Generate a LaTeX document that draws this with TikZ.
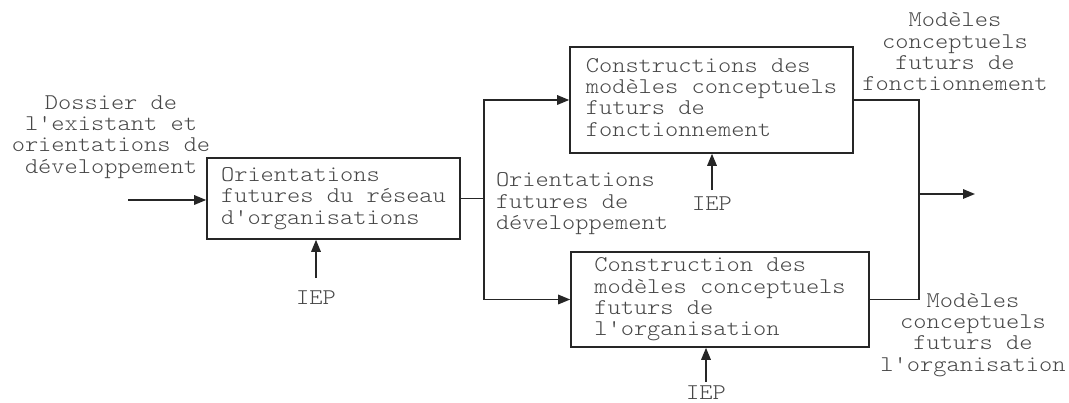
\documentclass[tikz,border=0pt]{standalone}
\usepackage{graphicx}
\usetikzlibrary{arrows.meta}
\newcommand\mytxt[2]{\scalebox{1.12}[1]{\begin{tabular}{@{}#1@{}}#2\end{tabular}}}
\begin{document}
\begin{tikzpicture}[x=1pt,y=-1pt,
  font=\ttfamily\fontseries{l}\fontsize{22.5}{21.3}\selectfont,
  txt/.style={text=black!72, inner sep=0pt},
  box/.style={draw=black!85, line width=1.6pt, text=black!72, inner sep=0pt},
  arr/.style={draw=black!85, line width=1.6pt, -{Triangle[length=12pt,width=9.5pt]}},
  ln/.style={draw=black!85, line width=1.6pt}]
\useasboundingbox (0,0) rectangle (1069,403);
% boxes
\node[box, minimum width=253pt, minimum height=81pt] (b1) at (333.5,198.5) {\mytxt{l}{Orientations\\futures du réseau\\d'organisations}};
\node[box, minimum width=283pt, minimum height=106pt] (b2) at (711.5,100) {\mytxt{l}{Constructions des\\modèles conceptuels\\futurs de\\fonctionnement}};
\node[box, minimum width=298pt, minimum height=95pt] (b3) at (720,299.5) {\mytxt{l}{Construction des\\modèles conceptuels\\futurs de\\l'organisation}};
% labels
\node[txt] (l0) at (111,137) {\mytxt{c}{Dossier de\\l'existant et\\orientations de\\développement}};
\node[txt] (l1) at (582,204) {\mytxt{l}{Orientations\\futures de\\développement}};
\node[txt] (l2) at (955,54.5) {\mytxt{c}{Modèles\\conceptuels\\futurs de\\fonctionnement}};
\node[txt] (l3) at (973,335) {\mytxt{c}{Modèles\\conceptuels\\futurs de\\l'organisation}};
\node[txt, outer ysep=11.3pt] (i1) at (316,300) {\mytxt{c}{IEP}};
\node[txt, outer ysep=5.3pt] (i2) at (712,206) {\mytxt{c}{IEP}};
\node[txt, outer ysep=2.3pt] (i3) at (706,395) {\mytxt{c}{IEP}};
% coordinates
\coordinate (in) at (128,200);
\coordinate (sp) at (484,200);
\coordinate (mg) at (919,194);
\coordinate (out) at (975,194);
% connectors
\draw[arr] (in) -- (in -| b1.west);
\draw[ln] (b1.east) -- (b1.east -| sp);
\draw[arr] (b1.east -| sp) |- (b2.west);
\draw[arr] (b1.east -| sp) |- (b3.west);
\draw[ln] (b2.east) -- (b2.east -| mg) -- (b3.east -| mg) -- (b3.east);
\draw[arr] (mg) -- (out);
\draw[arr] (i1.north) -- (i1.north |- b1.south);
\draw[arr] (i2.north) -- (i2.north |- b2.south);
\draw[arr] (i3.north) -- (i3.north |- b3.south);
\end{tikzpicture}
\end{document}
